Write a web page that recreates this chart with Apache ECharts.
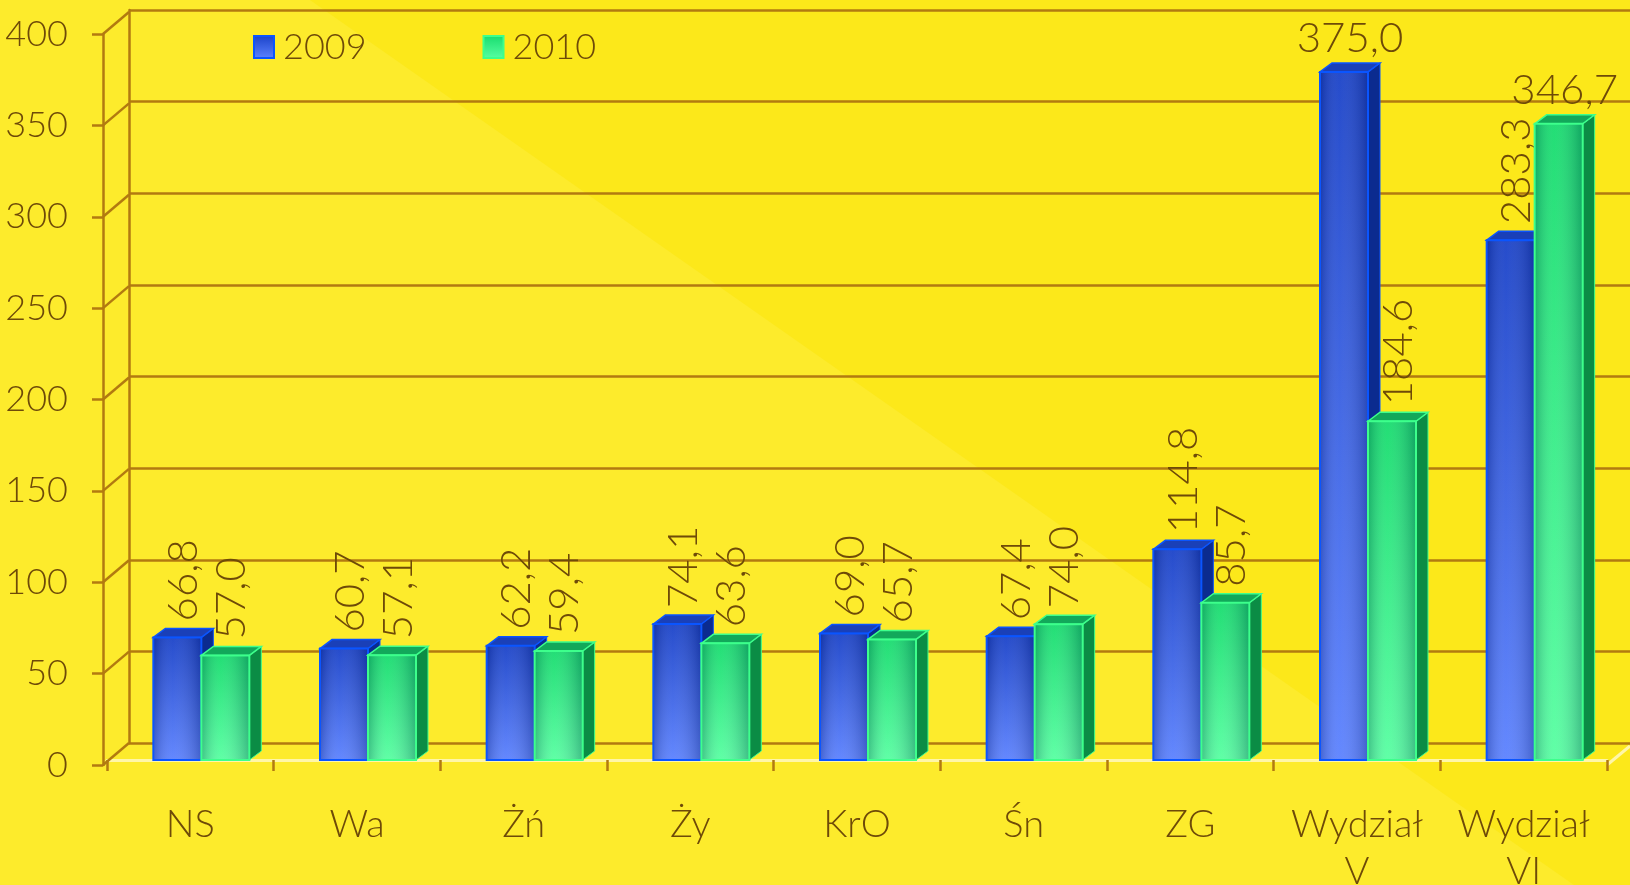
<!DOCTYPE html>
<html>
<head>
<meta charset="utf-8">
<script src="https://cdn.jsdelivr.net/npm/echarts@6/dist/echarts.min.js"></script>
<style>
html,body{margin:0;padding:0;background:#fce71a;}
#chart{width:1630px;height:885px;}
</style>
</head>
<body>
<div id="chart"></div>
<script>
// data
const categories = ['NS','Wa','Żń','Ży','KrO','Śn','ZG','Wydział\nV','Wydział\nVI']
const values2009 = [66.8,60.7,62.2,74.1,69.0,67.4,114.8,375.0,283.3]
const values2010 = [57.0,57.1,59.4,63.6,65.7,74.0,85.7,184.6,346.7]
const yTicks = [0,50,100,150,200,250,300,350,400]

const TXT = '#6e4a08'
const BROWN = '#b27a10'
const FONT = 'Lato'
const FW = 300
const DX = 12, DY = 9, BAR_W = 48

const blue = {edge:'#0a55ff', side:'#0b2b8f', top:'#1a40b8', f0:'#1a42c8', f1:'#5c82ff'}
const green = {edge:'#3dff8c', side:'#0b8c45', top:'#12a85a', f0:'#17dc6e', f1:'#58ffa2'}

function fmt(v){
  return v.toFixed(1).replace('.', ',')
}

function barRenderer(offset, c){
  return function(params, api){
    const cat = api.value(0), val = api.value(1)
    const base = api.coord([cat, 0]), top = api.coord([cat, val])
    const x = base[0] + offset, y0 = base[1], y1 = top[1], w = BAR_W
    const cx = x + w/2 + DX/2
    const flat = val > 300
    const label = flat ? {
      type:'text', x:cx, y:y1 - DY - 3,
      style:{text:fmt(val), fill:TXT, fontSize:42, fontWeight:FW, fontFamily:FONT, align:'center', verticalAlign:'bottom'}
    } : {
      type:'text', x:cx, y:y1 - DY - 7, rotation:Math.PI/2,
      style:{text:fmt(val), fill:TXT, fontSize:42, fontWeight:FW, fontFamily:FONT, align:'left', verticalAlign:'middle'}
    }
    return {type:'group', children:[
      {type:'polygon', shape:{points:[[x+w,y1],[x+w+DX,y1-DY],[x+w+DX,y0-DY],[x+w,y0]]},
        style:{fill:c.side, stroke:c.edge, lineWidth:1}},
      {type:'polygon', shape:{points:[[x,y1],[x+DX,y1-DY],[x+w+DX,y1-DY],[x+w,y1]]},
        style:{fill:c.top, stroke:c.edge, lineWidth:1.5}},
      {type:'rect', shape:{x:x, y:y1, width:w, height:y0-y1},
        style:{fill:new echarts.graphic.LinearGradient(0,0,0,1,[{offset:0,color:c.f0},{offset:1,color:c.f1}]), stroke:c.edge, lineWidth:2}},
      {type:'rect', shape:{x:x+1, y:y1+1, width:w-2, height:Math.max(0,y0-y1-2)},
        style:{fill:new echarts.graphic.LinearGradient(0,0,1,0,[
          {offset:0,color:'rgba(0,10,60,0.22)'},{offset:0.4,color:'rgba(255,255,255,0.05)'},{offset:1,color:'rgba(0,10,60,0.25)'}])}},
      label
    ]}
  }
}

function connectorRenderer(params, api){
  const p = api.coord([0, api.value(1)])
  const x0 = params.coordSys.x
  return {type:'line', shape:{x1:x0, y1:p[1], x2:x0+26, y2:p[1]-22},
    style:{stroke:BROWN, lineWidth:2.5}}
}

const chart = echarts.init(document.getElementById('chart'))
chart.setOption({
  backgroundColor:'#fce81a',
  animation:false,
  graphic:[
    {type:'polygon', z:-10, silent:true, shape:{points:[[0,0],[310,0],[1574,885],[0,885]]}, style:{fill:'#fdeb2c'}},
    {type:'line', z:-5, silent:true, shape:{x1:1607,y1:765,x2:1630,y2:746}, style:{stroke:'#fff6a8', lineWidth:3}}
  ],
  legend:{
    data:['2009','2010'],
    left:248, top:24,
    icon:'rect', itemWidth:20, itemHeight:22, itemGap:116,
    textStyle:{color:TXT, fontSize:36, fontWeight:FW, fontFamily:FONT, padding:[0,0,0,4]}
  },
  grid:[
    {left:129, right:0, top:10, bottom:142, outerBoundsMode:'none'},
    {left:103, right:27, top:34, bottom:120, outerBoundsMode:'none'},
    {left:107, right:23, top:26, bottom:125, outerBoundsMode:'none'}
  ],
  xAxis:[
    {gridIndex:0, type:'category', data:categories, show:false},
    {gridIndex:1, type:'category', data:categories, show:false},
    {gridIndex:2, type:'category', data:categories, offset:5,
      axisLine:{lineStyle:{color:'#fff6a8', width:3}},
      axisTick:{show:true, length:11, lineStyle:{color:BROWN, width:2.5}},
      axisLabel:{interval:0, color:TXT, fontSize:38, fontWeight:FW, fontFamily:FONT, lineHeight:47, margin:36}}
  ],
  yAxis:[
    {gridIndex:0, type:'value', min:0, max:400, interval:50,
      axisLabel:{show:false}, axisTick:{show:false},
      axisLine:{show:true, lineStyle:{color:BROWN, width:2.5}},
      splitLine:{show:true, lineStyle:{color:BROWN, width:2.5}}},
    {gridIndex:1, type:'value', min:0, max:400, interval:50,
      axisLine:{show:true, lineStyle:{color:BROWN, width:2.5}},
      axisTick:{show:true, length:11, lineStyle:{color:BROWN, width:2.5}},
      axisLabel:{color:TXT, fontSize:36, fontWeight:FW, fontFamily:FONT, margin:35},
      splitLine:{show:false}},
    {gridIndex:2, type:'value', min:0, max:400, interval:50, show:false, splitLine:{show:false}}
  ],
  series:[
    {type:'custom', name:'connectors', xAxisIndex:1, yAxisIndex:1,
      data:yTicks.map(v => [0, v]), renderItem:connectorRenderer, silent:true},
    {type:'custom', name:'2009', xAxisIndex:2, yAxisIndex:2,
      itemStyle:{color:new echarts.graphic.LinearGradient(0,0,0,1,[{offset:0,color:blue.f0},{offset:1,color:blue.f1}]), borderColor:blue.edge, borderWidth:1},
      data:values2009.map((v,i) => [i, v]), renderItem:barRenderer(-37, blue)},
    {type:'custom', name:'2010', xAxisIndex:2, yAxisIndex:2,
      itemStyle:{color:new echarts.graphic.LinearGradient(0,0,0,1,[{offset:0,color:green.f0},{offset:1,color:green.f1}]), borderColor:green.edge, borderWidth:1},
      data:values2010.map((v,i) => [i, v]), renderItem:barRenderer(11, green)}
  ]
})
window.addEventListener('resize', () => chart.resize())
</script>
</body>
</html>
